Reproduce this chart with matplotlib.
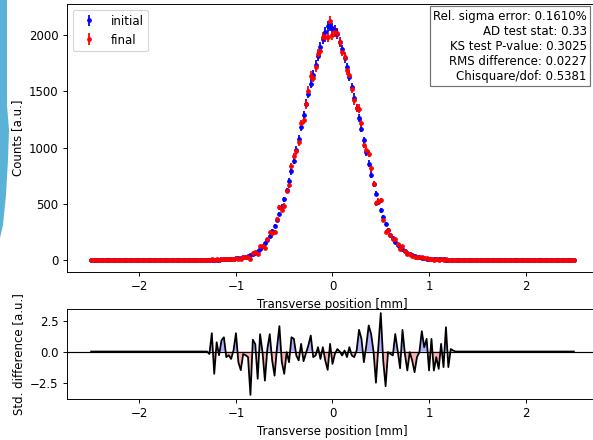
import numpy as np
import matplotlib
matplotlib.use("Agg")
import matplotlib.pyplot as plt
from matplotlib.patches import Polygon

# Bin centres of the transverse profile [mm]
x_min, x_max, n_bins = -2.5, 2.5, 201
n_empty = 49  # empty bins on each side of the beam core

# Counts in the occupied core bins (-1.275 ... 1.275 mm)
initial_core = [
    1, 1, 1, 2, 2, 3, 3, 4, 5, 7, 9, 12, 14, 17, 22, 28, 33, 40, 52, 65,
    80, 100, 124, 150, 180, 215, 255, 300, 352, 410, 472, 540, 618, 700, 788, 880,
    980, 1080, 1185, 1290, 1392, 1480, 1570, 1650, 1735, 1815, 1895, 1965, 2030, 2080,
    2085, 2065, 2045, 2010, 1945, 1875, 1800, 1715, 1630, 1540, 1445, 1350, 1260, 1170,
    1065, 960, 858, 760, 672, 590, 512, 440, 378, 320, 270, 225, 190, 160, 136, 115,
    96, 80, 65, 52, 43, 35, 28, 22, 18, 14, 11, 9, 7, 6, 5, 4, 3, 3, 2, 1, 1, 1, 1,
]
final_core = [
    1, 3, 0, 4, 1, 5, 6, 3, 4, 5, 9, 19, 10, 8, 21, 26, 29, 9, 62, 72,
    52, 120, 123, 109, 184, 244, 239, 252, 360, 469, 446, 481, 616, 668, 834, 923,
    966, 1047, 1215, 1250, 1385, 1507, 1642, 1624, 1716, 1836, 1858, 1987, 1984, 1985,
    2125, 2001, 2033, 2023, 1945, 1855, 1805, 1689, 1650, 1522, 1421, 1354, 1348, 1219,
    1025, 981, 945, 815, 672, 503, 525, 532, 358, 249, 269, 221, 184, 185, 137, 94,
    120, 77, 48, 51, 36, 21, 25, 22, 28, 16, 16, 3, 11, 1, 4, 0, 4, 0, 6, 0, 1, 1, 1,
]
# Standardised difference (final - initial) per core bin
std_diff_core = [
    -0.2, 1.48, -1.8, 0.75, -0.3, 0.9, 1.15, -0.45, -0.3, -0.6, 0.1, 1.48,
    -0.86, -1.5, -0.2, -0.3, -0.45, -3.5, 0.95, 0.6, -2.2, 1.4, -0.05, -2.35,
    0.2, 1.4, -0.72, -1.95, 0.3, 2.05, -0.86, -1.8, -0.05, -0.86, 1.15, 1.02,
    -0.32, -0.72, 0.62, -0.78, -0.13, 0.5, 1.29, -0.45, -0.32, 0.35, -0.6, 0.35,
    -0.72, -1.48, 0.62, -1.0, -0.19, 0.2, 0.0, -0.32, 0.08, -0.45, 0.35, -0.32,
    -0.45, 0.08, 1.75, 1.02, -0.86, 0.48, 2.1, 1.42, 0.0, -2.52, 0.4, 3.1,
    -0.72, -2.8, -0.05, -0.19, -0.32, 1.42, 0.08, -1.35, 1.75, -0.2, -1.53, -0.05,
    -0.72, -1.67, -0.45, -0.05, 1.64, 0.35, 1.02, -1.53, 1.02, -1.53, -0.45, -1.4,
    0.62, -1.26, 1.96, -1.26, 0.2, 0.08, 0.0,
]

stats_text = "\n".join([
    "Rel. sigma error: 0.1610%",
    "AD test stat: 0.33",
    "KS test P-value: 0.3025",
    "RMS difference: 0.0227",
    "Chisquare/dof: 0.5381",
])

pad = [0] * n_empty
initial = np.array(pad + initial_core + pad, dtype=float)
final = np.array(pad + final_core + pad, dtype=float)
std_diff = np.array(pad + std_diff_core + pad, dtype=float)
x = np.linspace(x_min, x_max, n_bins)

W, H, DPI = 593, 440, 85
fig = plt.figure(figsize=(W / DPI, H / DPI), dpi=DPI)

def px_axes(left, top, right, bottom):
    return [left / W, 1 - bottom / H, (right - left) / W, (bottom - top) / H]

ax = fig.add_axes(px_axes(67, 4, 598, 272))
ax.errorbar(x, initial, yerr=np.sqrt(initial), fmt='b.', label='initial')
ax.errorbar(x, final, yerr=np.sqrt(final), fmt='r.', label='final')
ax.set_xlabel('Transverse position [mm]')
ax.set_ylabel('Counts [a.u.]')
ax.legend(loc='upper left')
ax.text(0.979, 0.978, stats_text, transform=ax.transAxes, ha='right', va='top',
        multialignment='right',
        bbox=dict(boxstyle='square', facecolor='white', edgecolor='0.45'))

ax2 = fig.add_axes(px_axes(67, 309, 598, 399))
ax2.axhline(0, color='k', lw=1)
ax2.fill_between(x, std_diff, 0, where=std_diff > 0, color='blue', alpha=0.3,
                 interpolate=True, lw=0)
ax2.fill_between(x, std_diff, 0, where=std_diff < 0, color='red', alpha=0.3,
                 interpolate=True, lw=0)
ax2.plot(x, std_diff, color='k', lw=1.5)
ax2.set_xlabel('Transverse position [mm]')
ax2.set_ylabel('Std. difference [a.u.]')

# light blue edge strip along the left border
strip = [(0, 0), (7, 0), (7, 105), (9, 130), (8, 160), (6, 195), (3, 225),
         (0, 238)]
fig.add_artist(Polygon([(px / W, 1 - py / H) for px, py in strip], closed=True,
                       transform=fig.transFigure, facecolor='#5ab3d6',
                       edgecolor='none', zorder=-1))

fig.savefig('out.png', dpi=DPI)
